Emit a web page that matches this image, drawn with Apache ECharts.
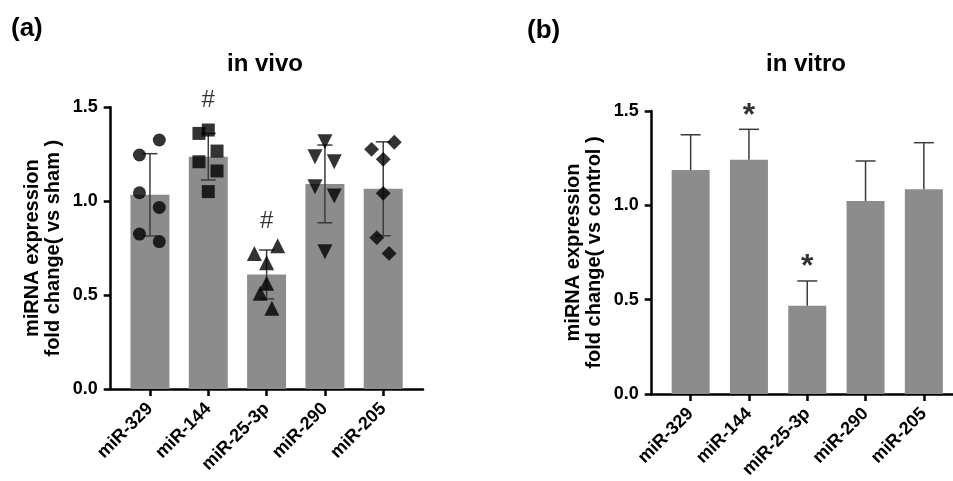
<!DOCTYPE html>
<html><head><meta charset="utf-8">
<script src="https://cdn.jsdelivr.net/npm/echarts@6/dist/echarts.min.js"></script>
<style>html,body{margin:0;padding:0;background:#fff}#c{width:953px;height:481px}</style>
</head><body><div id="c"></div>
<script>
const categories = ['miR-329','miR-144','miR-25-3p','miR-290','miR-205'];
const yTicks = [0, 0.5, 1.0, 1.5];
// panel (a) in vivo
const vivoMean = [1.034, 1.237, 0.610, 1.092, 1.066];
const vivoSD = [0.219, 0.124, 0.130, 0.207, 0.250];
// individual points: [category index + jitter, value]
const vivoPts329 = [[-0.18,1.246],[0.16,1.326],[-0.18,1.045],[0.16,0.967],[-0.18,0.825],[0.16,0.785]];
const vivoPts144 = [[0.84,1.361],[1.0,1.379],[1.15,1.267],[0.84,1.210],[1.15,1.161],[1.0,1.051]];
const vivoPts253p = [[1.79,0.722],[2.19,0.763],[2.0,0.672],[2.0,0.563],[1.89,0.510],[2.09,0.430]];
const vivoPts290 = [[3.0,1.317],[2.83,1.237],[3.16,1.210],[2.83,1.077],[3.16,1.028],[3.0,0.731]];
const vivoPts205 = [[3.8,1.276],[4.19,1.314],[4.0,1.223],[4.0,1.042],[3.89,0.806],[4.1,0.722]];
const vivoSig = [[1, 1.535, '#'], [2, 0.89, '#']];
// panel (b) in vitro
const vitroMean = [1.187, 1.242, 0.468, 1.023, 1.085];
const vitroErr = [0.187, 0.161, 0.131, 0.212, 0.247];
const vitroSig = [[1, 1.475, '*'], [2, 0.672, '*']];

const FONT = '"Liberation Sans", Arial, sans-serif';
const BAR = '#8c8c8c';
const ERR = '#3c3c3c';

const chart = echarts.init(document.getElementById('c'), null, {renderer: 'canvas'});

function errSeries(xi, yi, means, errs, both, capW) {
  return {
    type: 'custom', xAxisIndex: xi, yAxisIndex: yi, z: 4,
    data: means.map((m, i) => [i, m, errs[i]]),
    renderItem: function (params, api) {
      const x = api.value(0), m = api.value(1), s = api.value(2);
      const top = api.coord([x, m + s]);
      const bot = api.coord([x, both ? m - s : m]);
      const st = {stroke: ERR, lineWidth: 1.5};
      const ch = [
        {type: 'line', shape: {x1: top[0], y1: top[1], x2: bot[0], y2: bot[1]}, style: st},
        {type: 'line', shape: {x1: top[0] - capW / 2, y1: top[1], x2: top[0] + capW / 2, y2: top[1]}, style: st}
      ];
      if (both) ch.push({type: 'line', shape: {x1: bot[0] - capW / 2, y1: bot[1], x2: bot[0] + capW / 2, y2: bot[1]}, style: st});
      return {type: 'group', children: ch};
    }
  };
}
function ptSeries(data, symbol, size, rot) {
  return {
    type: 'scatter', xAxisIndex: 1, yAxisIndex: 0, z: 5,
    data: data, symbol: symbol, symbolSize: size, symbolRotate: rot || 0,
    itemStyle: {color: '#000'}, silent: true
  };
}
function sigSeries(xi, yi, data, fs, fw) {
  return {
    type: 'scatter', xAxisIndex: xi, yAxisIndex: yi, z: 6, symbolSize: 1,
    itemStyle: {color: 'rgba(0,0,0,0)'},
    data: data, clip: false,
    label: {show: true, position: 'inside', formatter: p => p.data[2],
      fontFamily: FONT, fontSize: fs, fontWeight: fw, color: '#000'}
  };
}
const yLabel = {fontFamily: FONT, fontSize: 18, fontWeight: 'bold', color: '#000',
  formatter: v => v.toFixed(1), margin: 13};
const nameStyle = {fontFamily: FONT, fontSize: 20, fontWeight: 'bold', color: '#000', lineHeight: 21};
function frameY(gi, name) {
  return {type: 'value', gridIndex: gi, min: yTicks[0], max: yTicks[yTicks.length - 1], interval: 0.5,
    axisLine: {show: true, lineStyle: {color: '#000', width: 2.5}},
    axisTick: {show: true, length: 7, lineStyle: {color: '#000', width: 2.5}},
    axisLabel: yLabel, splitLine: {show: false},
    name: name, nameLocation: 'middle', nameRotate: 90, nameGap: 47, nameTextStyle: nameStyle};
}
function hiddenY(gi) {
  return {type: 'value', gridIndex: gi, min: 0, max: 1.5, show: false, splitLine: {show: false}};
}
function catX(gi) {
  return {type: 'category', gridIndex: gi, data: categories, boundaryGap: true,
    axisLine: {show: false},
    axisTick: {show: true, alignWithLabel: true, length: 7, lineStyle: {color: '#000', width: 2.5}},
    axisLabel: {rotate: 45, fontFamily: FONT, fontSize: 18, fontWeight: 'bold', color: '#000', margin: 17, interval: 0},
    splitLine: {show: false}};
}
function frameX(gi) {
  return {type: 'value', gridIndex: gi, min: 0, max: 1,
    axisLine: {show: true, onZero: false, lineStyle: {color: '#000', width: 2.5}},
    axisTick: {show: false}, axisLabel: {show: false}, splitLine: {show: false}};
}

const option = {
  backgroundColor: '#fff',
  animation: false,
  title: [
    {text: '(a)', left: 11, top: 16, padding: 0, textStyle: {fontFamily: FONT, fontSize: 26, fontWeight: 'bold', color: '#000'}},
    {text: 'in vivo', left: 265, top: 52, padding: 0, textAlign: 'center', textStyle: {fontFamily: FONT, fontSize: 24, fontWeight: 'bold', color: '#000'}},
    {text: '(b)', left: 527, top: 18, padding: 0, textStyle: {fontFamily: FONT, fontSize: 26, fontWeight: 'bold', color: '#000'}},
    {text: 'in vitro', left: 806, top: 52, padding: 0, textAlign: 'center', textStyle: {fontFamily: FONT, fontSize: 24, fontWeight: 'bold', color: '#000'}}
  ],
  grid: [
    {left: 120.8, width: 291.6, top: 107.3, bottom: 92},   // 0 data (a)
    {left: 110.7, width: 312.3, top: 107.3, bottom: 92},   // 1 frame (a)
    {left: 661.5, width: 291.6, top: 111, bottom: 87},     // 2 data (b)
    {left: 651.7, width: 312, top: 111, bottom: 87}        // 3 frame (b)
  ],
  xAxis: [
    catX(0),
    {type: 'value', gridIndex: 0, min: -0.5, max: 4.5, show: false, splitLine: {show: false}},
    frameX(1),
    catX(2),
    frameX(3)
  ],
  yAxis: [
    hiddenY(0),
    frameY(1, 'miRNA expression\nfold change( vs sham )'),
    hiddenY(2),
    frameY(3, 'miRNA expression\nfold change( vs control )')
  ],
  series: [
    {type: 'bar', xAxisIndex: 0, yAxisIndex: 0, data: vivoMean, barWidth: 39, itemStyle: {color: BAR}, z: 2, silent: true},
    errSeries(0, 0, vivoMean, vivoSD, true, 15),
    ptSeries(vivoPts329, 'circle', 13),
    ptSeries(vivoPts144, 'rect', 13),
    ptSeries(vivoPts253p, 'triangle', 15),
    ptSeries(vivoPts290, 'triangle', 15, 180),
    ptSeries(vivoPts205, 'rect', 10.5, 45),
    sigSeries(0, 0, vivoSig, 24, 'normal'),
    {type: 'bar', xAxisIndex: 3, yAxisIndex: 2, data: vitroMean, barWidth: 38, itemStyle: {color: BAR}, z: 2, silent: true},
    errSeries(3, 2, vitroMean, vitroErr, false, 20),
    sigSeries(3, 2, vitroSig, 32, 'bold')
  ]
};
chart.setOption(option);
</script></body></html>
